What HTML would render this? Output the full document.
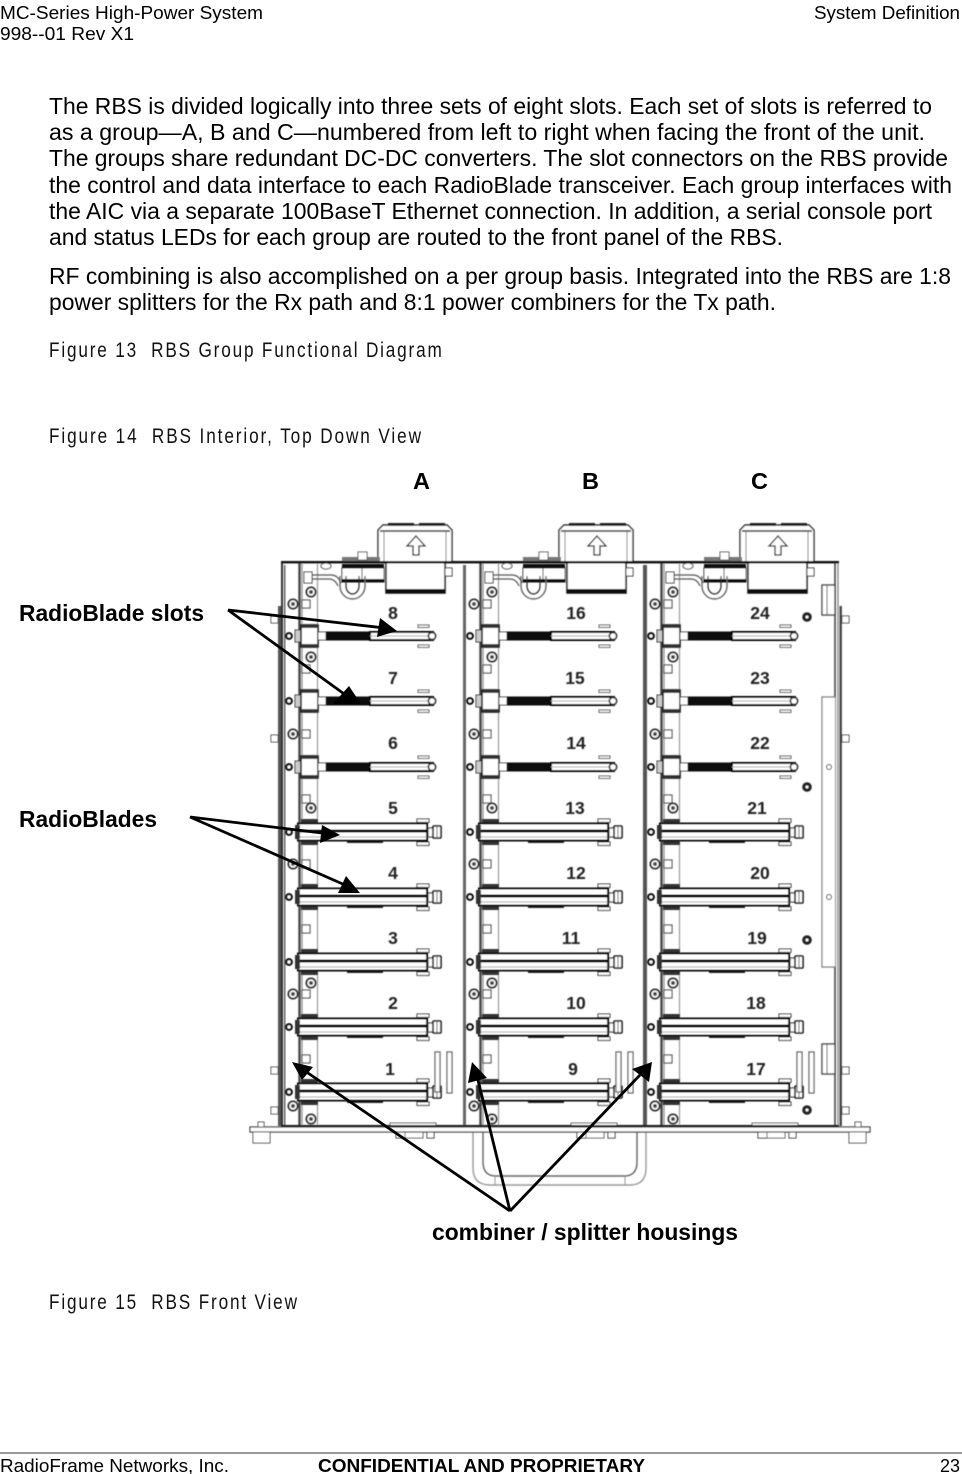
<!DOCTYPE html>
<html><head><meta charset="utf-8"><title>RBS</title>
<style>
html,body{margin:0;padding:0;background:#fff;width:962px;height:1474px;overflow:hidden}
svg{display:block}
text{font-family:"Liberation Sans",sans-serif;fill:#000;white-space:pre}
.b{font-size:23px}.h{font-size:18.3px}.f{font-size:18.3px}
.c{font-size:21.5px;fill:#111}
.l{font-size:23.5px;font-weight:bold}
.n{font-size:17.5px;font-weight:bold;fill:#222;text-anchor:middle}
</style></head><body>
<svg width="962" height="1474" viewBox="0 0 962 1474" xmlns="http://www.w3.org/2000/svg">
<defs>
<filter id="s" x="-2%" y="-2%" width="104%" height="104%"><feGaussianBlur stdDeviation="0.4"/></filter>
<g id="screw"><circle r="4.6" fill="#fff" stroke="#222" stroke-width="1.8"/><circle r="2" fill="#444"/></g>
<g id="nut"><circle r="4.8" fill="#222"/><circle r="1.5" fill="#fff"/></g>
<g id="dot"><circle r="2.8" fill="#fff" stroke="#000" stroke-width="2.2"/></g>
<g id="sq"><rect x="0" y="-4" width="8" height="8" fill="#fff" stroke="#555" stroke-width="1.2"/></g>
<g id="slot">
 <use href="#dot" x="289" y="0"/>
 <rect x="295" y="-6" width="7" height="12" fill="#ccc" stroke="#333"/>
 <rect x="301" y="-11" width="17" height="22" fill="#fff" stroke="#111" stroke-width="1.6"/>
 <rect x="301" y="-11" width="17" height="3" fill="#333"/>
 <rect x="301" y="8" width="17" height="3" fill="#333"/>
 <rect x="318" y="-4" width="8" height="8" fill="#fff" stroke="#333"/>
 <rect x="326" y="-4.5" width="44" height="9" fill="#111"/>
 <rect x="370" y="-4" width="63" height="8" fill="#fff" stroke="#000" stroke-width="2"/>
 <line x1="370" y1="0" x2="431" y2="0" stroke="#aaa" stroke-width="1"/>
 <circle cx="432" cy="0" r="3.6" fill="#fff" stroke="#222" stroke-width="1.6"/>
 <rect x="418" y="-11" width="11" height="2.4" fill="#fff" stroke="#555" stroke-width="1"/>
 <rect x="418" y="9" width="11" height="2.4" fill="#fff" stroke="#555" stroke-width="1"/>
</g>
<g id="blade">
 <use href="#dot" x="289" y="0"/>
 <rect x="301" y="-13" width="17" height="4" fill="#333"/>
 <rect x="301" y="9" width="17" height="4" fill="#333"/>
 <rect x="417" y="-13" width="12" height="3.4" fill="#fff" stroke="#222"/>
 <rect x="417" y="10" width="12" height="3.4" fill="#fff" stroke="#222"/>
 <rect x="298" y="-8.5" width="129" height="17" fill="#fff" stroke="#000" stroke-width="2"/>
 <line x1="298" y1="-1" x2="427" y2="-1" stroke="#000" stroke-width="3"/>
 <line x1="298" y1="5" x2="427" y2="5" stroke="#888" stroke-width="0.8"/>
 <rect x="295" y="-7" width="5" height="14" fill="#333"/>
 <rect x="347" y="8.5" width="36" height="2.4" fill="#111"/>
 <rect x="428" y="-4" width="6" height="9" fill="#fff" stroke="#333" stroke-width="1.2"/>
 <rect x="433" y="-6" width="8" height="12" rx="1" fill="#fff" stroke="#111" stroke-width="1.6"/>
 <line x1="437" y1="-6" x2="437" y2="6" stroke="#555"/>
</g>
<g id="top">
 <path d="M378 562V530L383 525H447L452 530V562Z" fill="#fff" stroke="#222" stroke-width="1.4"/>
 <line x1="380" y1="531" x2="450" y2="531" stroke="#222" stroke-width="1.4"/>
 <rect x="388" y="523" width="26" height="3" fill="#222"/><rect x="419" y="523" width="26" height="3" fill="#222"/>
 <line x1="384" y1="531" x2="384" y2="562" stroke="#777"/><line x1="446" y1="531" x2="446" y2="562" stroke="#777"/>
 <path d="M416 536L425 546H419V555H413V546H407Z" fill="#fff" stroke="#111" stroke-width="1.3"/>
 <path d="M386 563V593H445V563" fill="#fff" stroke="#111" stroke-width="1.5"/>
 <rect x="386" y="589" width="59" height="4" fill="#111"/>
 <rect x="342" y="557" width="38" height="5" fill="#777"/>
 <rect x="358" y="552" width="9" height="8" fill="#fff" stroke="#555"/>
 <rect x="342" y="564" width="42" height="4" fill="#111"/>
 <rect x="342" y="568" width="42" height="14" fill="#fff" stroke="#111"/>
 <line x1="362" y1="568" x2="362" y2="582" stroke="#222"/>
 <rect x="342" y="579" width="42" height="3" fill="#111"/>
 <path d="M340 576V586A12.5 13 0 0 0 365 586V576" fill="none" stroke="#666" stroke-width="1.4"/>
 <path d="M346 576V586A6.5 8 0 0 0 359 586V576" fill="none" stroke="#222" stroke-width="1.2"/>
 <path d="M312 575H331Q338 575 341 583" fill="none" stroke="#555" stroke-width="1.2"/>
 <path d="M312 579H329Q335 579 338 586" fill="none" stroke="#555" stroke-width="1.2"/>
 <rect x="304" y="572" width="8" height="11" fill="#fff" stroke="#333"/>
 <ellipse cx="326" cy="566" rx="5" ry="3" fill="#fff" stroke="#333"/>
 <rect x="445" y="568" width="7" height="8" fill="#fff" stroke="#222"/>
</g>
<g id="col">
 <line x1="299.5" y1="562" x2="299.5" y2="1126" stroke="#444" stroke-width="2.4"/>
 <line x1="302" y1="562" x2="302" y2="1126" stroke="#999" stroke-width="1.4"/>
 <line x1="317.5" y1="562" x2="317.5" y2="1126" stroke="#999" stroke-width="1.2"/>
 <use href="#sq" x="302" y="604"/><use href="#sq" x="302" y="669"/><use href="#sq" x="302" y="734"/><use href="#sq" x="302" y="799"/>
 <use href="#sq" x="302" y="864"/><use href="#sq" x="302" y="929"/><use href="#sq" x="302" y="994"/><use href="#sq" x="302" y="1059"/>
 <use href="#screw" x="311" y="592"/><use href="#screw" x="293" y="604"/><use href="#screw" x="311" y="657"/>
 <use href="#screw" x="293" y="734"/><use href="#screw" x="311" y="808"/><use href="#screw" x="293" y="864"/>
 <use href="#screw" x="311" y="983"/><use href="#screw" x="293" y="994"/><use href="#screw" x="293" y="1106"/><use href="#screw" x="311" y="1119"/>
 <use href="#top"/>
 <use href="#slot" y="636"/><use href="#slot" y="701"/><use href="#slot" y="767"/>
 <use href="#blade" y="832"/><use href="#blade" y="897"/><use href="#blade" y="962"/><use href="#blade" y="1027"/><use href="#blade" y="1092"/>
 <rect x="435" y="1052" width="5" height="40" fill="#fff" stroke="#555" stroke-width="1.2"/>
 <rect x="447" y="1052" width="5" height="41" fill="#fff" stroke="#555" stroke-width="1.2"/>
 <rect x="390" y="1123" width="46" height="3" fill="#fff" stroke="#555"/>
 <rect x="396" y="1132" width="9" height="6" fill="#fff" stroke="#222"/>
 <rect x="405" y="1132" width="18" height="6" fill="#fff" stroke="#555"/>
 <rect x="427" y="1132" width="7" height="6" fill="#fff" stroke="#222"/>
</g>
</defs>

<g filter="url(#s)">
<rect x="281" y="562" width="2" height="564" fill="#333"/>
<rect x="284" y="565" width="1.4" height="561" fill="#555"/>
<rect x="278" y="606" width="3" height="520" fill="#555"/>
<rect x="271" y="616" width="7" height="7" fill="#fff" stroke="#444"/><rect x="271" y="735" width="7" height="7" fill="#fff" stroke="#444"/>
<rect x="271" y="1067" width="7" height="7" fill="#fff" stroke="#444"/><rect x="271" y="1107" width="7" height="7" fill="#fff" stroke="#444"/>
<rect x="463" y="565" width="3" height="561" fill="#666"/>
<rect x="643" y="565" width="4" height="561" fill="#555"/>

<use href="#col"/>
<use href="#col" x="181"/>
<use href="#col" x="362"/>

<rect x="281" y="561" width="558" height="2.4" fill="#111"/>
<line x1="835" y1="563" x2="835" y2="1126" stroke="#444" stroke-width="1.6"/>
<line x1="838" y1="563" x2="838" y2="1126" stroke="#777" stroke-width="1.2"/>
<rect x="839.5" y="606" width="2.4" height="520" fill="#444"/>
<rect x="842" y="616" width="7" height="7" fill="#fff" stroke="#444"/><rect x="842" y="735" width="7" height="7" fill="#fff" stroke="#444"/>
<rect x="842" y="1067" width="7" height="7" fill="#fff" stroke="#444"/><rect x="842" y="1107" width="7" height="7" fill="#fff" stroke="#444"/>
<rect x="822" y="585" width="13" height="30" fill="#fff" stroke="#444" stroke-width="1.4"/><line x1="827" y1="585" x2="827" y2="615" stroke="#444"/>
<rect x="822" y="1044" width="13" height="30" fill="#fff" stroke="#444" stroke-width="1.4"/><line x1="827" y1="1044" x2="827" y2="1074" stroke="#444"/>
<path d="M835 697H822V967H835" fill="#fff" stroke="#777" stroke-width="1.2"/>
<circle cx="829" cy="767" r="2.5" fill="#fff" stroke="#333"/><circle cx="829" cy="897" r="2.5" fill="#fff" stroke="#333"/>
<use href="#nut" x="807" y="617"/><use href="#nut" x="807" y="787"/><use href="#nut" x="807" y="940"/><use href="#nut" x="807" y="1110"/>

<path d="M473 1132V1168Q473 1185 490 1185H630Q646 1185 646 1168V1132" fill="none" stroke="#999" stroke-width="1.4"/>
<path d="M483 1132V1162Q483 1176 496 1176H624Q637 1176 637 1162V1132" fill="none" stroke="#666" stroke-width="1.4"/>
<line x1="495" y1="1176" x2="495" y2="1185" stroke="#999"/><line x1="625" y1="1176" x2="625" y2="1185" stroke="#999"/>

<rect x="281" y="1125" width="558" height="2.4" fill="#111"/>
<rect x="250" y="1127" width="620" height="5" fill="#fff" stroke="#333" stroke-width="1.2"/>
<rect x="253" y="1132" width="17" height="11" fill="#fff" stroke="#444"/><rect x="258" y="1122" width="6" height="5" fill="#fff" stroke="#444"/>
<rect x="849" y="1132" width="17" height="11" fill="#fff" stroke="#444"/><rect x="855" y="1122" width="6" height="5" fill="#fff" stroke="#444"/>

<text class="n" x="393" y="619">8</text><text class="n" x="393" y="684">7</text><text class="n" x="393" y="749">6</text><text class="n" x="393" y="814">5</text><text class="n" x="393" y="879">4</text><text class="n" x="393" y="944">3</text><text class="n" x="393" y="1009">2</text><text class="n" x="390" y="1075">1</text>
<text class="n" x="576" y="619">16</text><text class="n" x="575" y="684">15</text><text class="n" x="576" y="749">14</text><text class="n" x="575" y="814">13</text><text class="n" x="576" y="879">12</text><text class="n" x="571" y="944">11</text><text class="n" x="576" y="1009">10</text><text class="n" x="573" y="1075">9</text>
<text class="n" x="760" y="619">24</text><text class="n" x="760" y="684">23</text><text class="n" x="760" y="749">22</text><text class="n" x="757" y="814">21</text><text class="n" x="760" y="879">20</text><text class="n" x="757" y="944">19</text><text class="n" x="756" y="1009">18</text><text class="n" x="756" y="1075">17</text>
</g>

<g stroke="#000" stroke-width="2.8" fill="none">
<path d="M228 610L385 628M228 610L347 696M190 817L322 833M190 817L345 885"/>
<path d="M510 1211L305 1071M510 1211L478 1080M510 1211L640 1075"/>
</g>
<g fill="#000">
<path d="M397 631L380 618L377 637Z"/>
<path d="M349 686L361 704L333 704Z"/>
<path d="M340 835L322 825L320 843Z"/>
<path d="M360 893L338 893L346 876Z"/>
<path d="M292 1062L313 1067L302 1080Z"/>
<path d="M472 1062L487 1078L468 1083Z"/>
<path d="M652 1062L649 1082L632 1069Z"/>
</g>

<text class="h" x="0" y="19" textLength="263" lengthAdjust="spacingAndGlyphs">MC-Series High-Power System</text>
<text class="h" x="0" y="40" textLength="134" lengthAdjust="spacingAndGlyphs">998--01 Rev X1</text>
<text class="h" x="814" y="19" textLength="146" lengthAdjust="spacingAndGlyphs">System Definition</text>

<text class="b" x="49" y="114" textLength="883" lengthAdjust="spacingAndGlyphs">The RBS is divided logically into three sets of eight slots. Each set of slots is referred to</text>
<text class="b" x="49" y="140" textLength="876" lengthAdjust="spacingAndGlyphs">as a group—A, B and C—numbered from left to right when facing the front of the unit.</text>
<text class="b" x="49" y="166" textLength="899" lengthAdjust="spacingAndGlyphs">The groups share redundant DC-DC converters. The slot connectors on the RBS provide</text>
<text class="b" x="49" y="193" textLength="903" lengthAdjust="spacingAndGlyphs">the control and data interface to each RadioBlade transceiver. Each group interfaces with</text>
<text class="b" x="49" y="219" textLength="883" lengthAdjust="spacingAndGlyphs">the AIC via a separate 100BaseT Ethernet connection. In addition, a serial console port</text>
<text class="b" x="49" y="245" textLength="734" lengthAdjust="spacingAndGlyphs">and status LEDs for each group are routed to the front panel of the RBS.</text>
<text class="b" x="49" y="284" textLength="902" lengthAdjust="spacingAndGlyphs">RF combining is also accomplished on a per group basis. Integrated into the RBS are 1:8</text>
<text class="b" x="49" y="310" textLength="727" lengthAdjust="spacingAndGlyphs">power splitters for the Rx path and 8:1 power combiners for the Tx path.</text>

<text class="c" transform="translate(49 357) scale(.8 1)" textLength="491" lengthAdjust="spacing">Figure 13  RBS Group Functional Diagram</text>
<text class="c" transform="translate(49 443) scale(.8 1)" textLength="465" lengthAdjust="spacing">Figure 14  RBS Interior, Top Down View</text>
<text class="c" transform="translate(49 1309) scale(.8 1)" textLength="310" lengthAdjust="spacing">Figure 15  RBS Front View</text>

<text class="l" x="413" y="489">A</text><text class="l" x="582" y="489">B</text><text class="l" x="751" y="489">C</text>
<text class="l" x="19" y="621" textLength="185" lengthAdjust="spacingAndGlyphs">RadioBlade slots</text>
<text class="l" x="19" y="827" textLength="138" lengthAdjust="spacingAndGlyphs">RadioBlades</text>
<text class="l" x="432" y="1240" textLength="306" lengthAdjust="spacingAndGlyphs">combiner / splitter housings</text>

<rect x="0" y="1452.5" width="962" height="1" fill="#333"/>
<text class="f" x="0" y="1472" textLength="229" lengthAdjust="spacingAndGlyphs">RadioFrame Networks, Inc.</text>
<text class="f" x="318" y="1472" font-weight="bold" textLength="327" lengthAdjust="spacingAndGlyphs">CONFIDENTIAL AND PROPRIETARY</text>
<text class="f" x="940" y="1472" textLength="20" lengthAdjust="spacingAndGlyphs">23</text>
</svg>
</body></html>
